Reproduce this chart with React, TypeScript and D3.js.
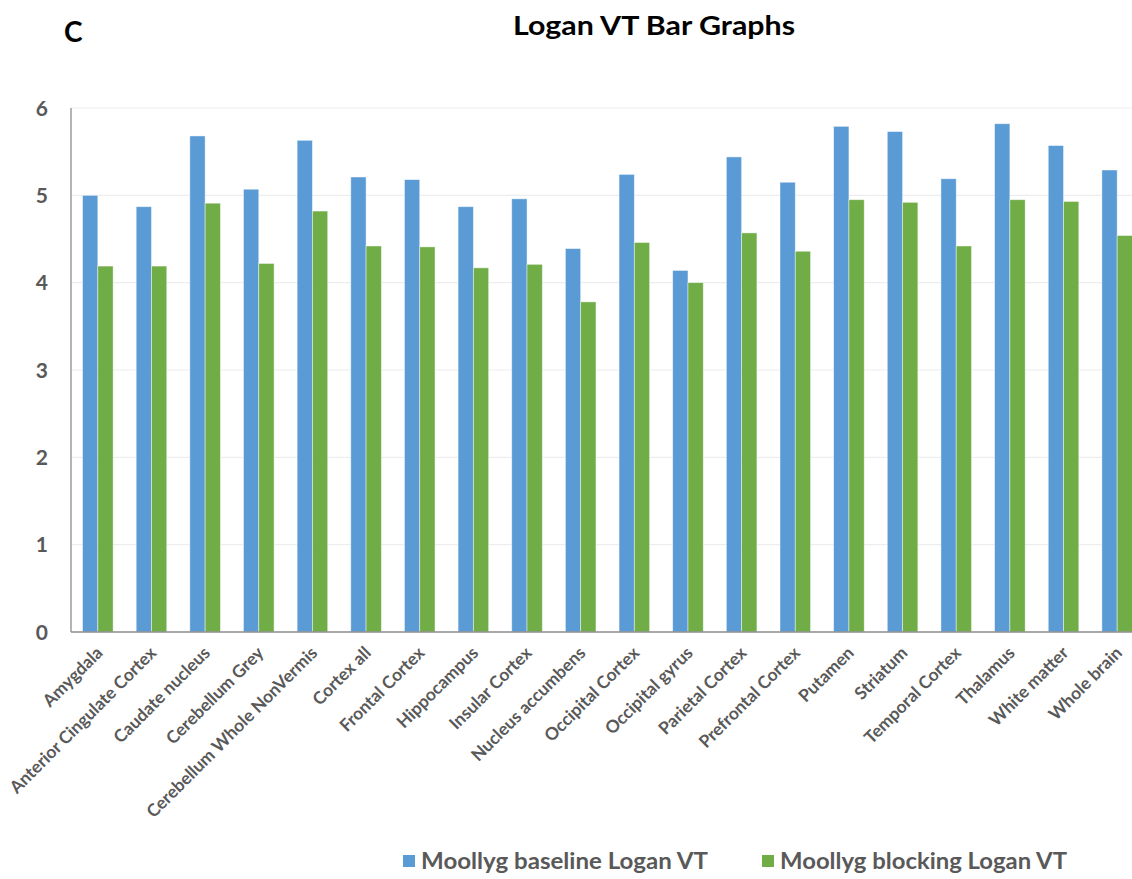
import React from "react";
import * as d3 from "d3";

const categories = [
  "Amygdala",
  "Anterior Cingulate Cortex",
  "Caudate nucleus",
  "Cerebellum Grey",
  "Cerebellum Whole NonVermis",
  "Cortex all",
  "Frontal Cortex",
  "Hippocampus",
  "Insular Cortex",
  "Nucleus accumbens",
  "Occipital Cortex",
  "Occipital gyrus",
  "Parietal Cortex",
  "Prefrontal Cortex",
  "Putamen",
  "Striatum",
  "Temporal Cortex",
  "Thalamus",
  "White matter",
  "Whole brain",
];

const baseline = [5.0, 4.87, 5.68, 5.07, 5.63, 5.21, 5.18, 4.87, 4.96, 4.39, 5.24, 4.14, 5.44, 5.15, 5.79, 5.73, 5.19, 5.82, 5.57, 5.29];
const blocking = [4.19, 4.19, 4.91, 4.22, 4.82, 4.42, 4.41, 4.17, 4.21, 3.78, 4.46, 4.0, 4.57, 4.36, 4.95, 4.92, 4.42, 4.95, 4.93, 4.54];

const seriesNames = ["Moollyg baseline Logan VT", "Moollyg blocking Logan VT"];
const seriesColors = ["#5B9BD5", "#70AD47"];
const yTicks = [0, 1, 2, 3, 4, 5, 6];

const W = 1132;
const H = 879;
const left = 71;
const top = 108;
const bottom = 632;
const step = 53.65;

export default function App() {
  const x = d3
    .scaleBand<string>()
    .domain(categories)
    .range([left, left + step * categories.length])
    .paddingInner(0.43)
    .paddingOuter(0.215);
  const sub = d3.scaleBand<number>().domain([0, 1]).range([0, x.bandwidth()]);
  const y = d3.scaleLinear().domain([0, 6]).range([bottom, top]);
  const series = [baseline, blocking];
  const font = "Lato, 'Open Sans', sans-serif";

  return (
    <svg
      width={W}
      height={H}
      style={{ position: "absolute", left: 0, top: 0, background: "#fff" }}
      fontFamily={font}
    >
      <rect x={0} y={0} width={W} height={H} fill="#fff" />
      <text x={64} y={42} fontSize={28} fontWeight={700} fill="#000">C</text>
      <text x={513} y={35} fontSize={27} fontWeight={700} fill="#000" textLength={282} lengthAdjust="spacingAndGlyphs">
        Logan VT Bar Graphs
      </text>

      {yTicks.map((t) => (
        <g key={t}>
          {t > 0 && <line x1={left} x2={W} y1={y(t)} y2={y(t)} stroke="#EDEDED" strokeWidth={1.2} />}
          <text x={48} y={y(t)} dy="0.36em" textAnchor="end" fontSize={21} fontWeight={700} fill="#595959">
            {t}
          </text>
        </g>
      ))}

      {categories.map((c, i) => (
        <g key={c}>
          {series.map((s, k) => (
            <rect
              key={k}
              x={(x(c) as number) + (sub(k) as number)}
              y={y(s[i])}
              width={sub.bandwidth()}
              height={y(0) - y(s[i])}
              fill={seriesColors[k]}
              stroke="#ffffff"
              strokeOpacity={0.55}
              strokeWidth={0.8}
            />
          ))}
        </g>
      ))}

      <line x1={left} x2={left} y1={top} y2={bottom} stroke="#8C8C8C" strokeWidth={1.3} />
      <line x1={left} x2={W} y1={bottom} y2={bottom} stroke="#8C8C8C" strokeWidth={1.3} />

      {categories.map((c) => {
        const cx = (x(c) as number) + x.bandwidth() / 2 + 6;
        const cy = 654;
        return (
          <text
            key={c}
            x={cx}
            y={cy}
            transform={`rotate(-45, ${cx}, ${cy})`}
            textAnchor="end"
            fontSize={17.4}
            fontWeight={700}
            fill="#595959"
          >
            {c}
          </text>
        );
      })}

      {seriesNames.map((n, k) => {
        const lx = k === 0 ? 403 : 762;
        return (
          <g key={n}>
            <rect x={lx} y={855} width={12} height={12} fill={seriesColors[k]} />
            <text x={lx + 18} y={861} dy="0.36em" fontSize={22} fontWeight={700} fill="#595959" textLength={287} lengthAdjust="spacingAndGlyphs">
              {n}
            </text>
          </g>
        );
      })}
    </svg>
  );
}
